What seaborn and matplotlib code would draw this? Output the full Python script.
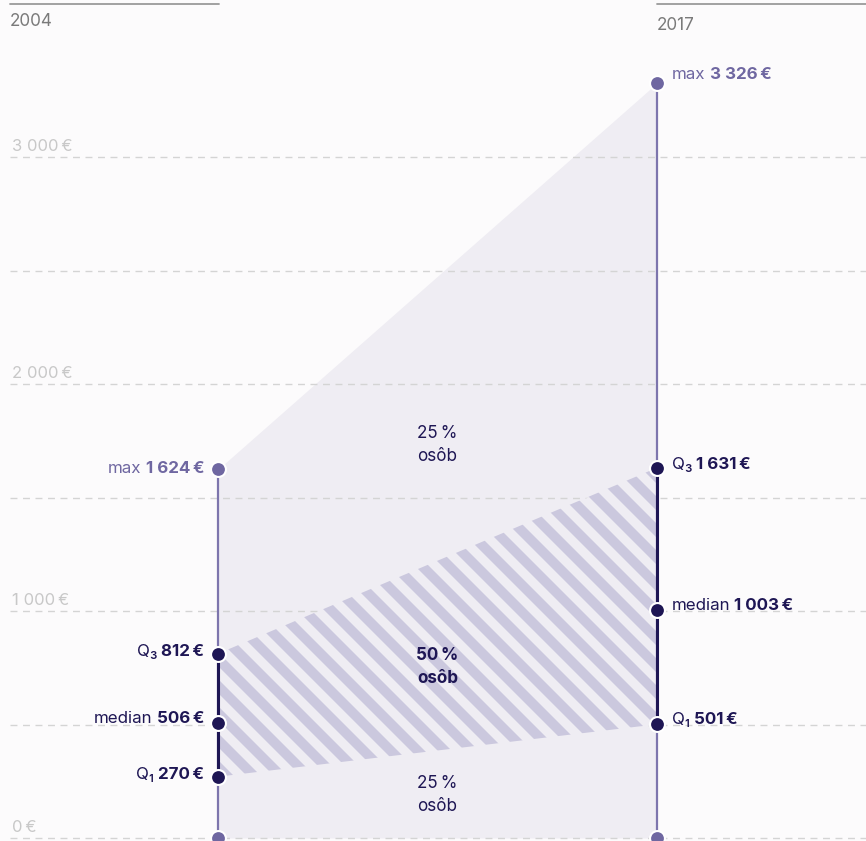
import matplotlib
matplotlib.use("Agg")
import matplotlib.pyplot as plt
from matplotlib.collections import PolyCollection
import seaborn as sns
import pandas as pd
import numpy as np

# ---- data ----
years = ["2004", "2017"]
q_min = [0, 0]
q1 = [270, 501]
median = [506, 1003]
q3 = [812, 1631]
q_max = [1624, 3326]
grid_values = [0, 500, 1000, 1500, 2000, 2500, 3000]
tick_labels = {0: "0\u2009€", 1000: "1 000\u2009€", 2000: "2 000\u2009€", 3000: "3 000\u2009€"}
band_labels = ["25\u2009%\nosôb", "50\u2009%\nosôb", "25\u2009%\nosôb"]

sns.set_theme(style="white")
plt.rcParams["font.family"] = ["Inter", "DejaVu Sans"]

BG = "#fcfbfc"
FILL = "#efedf3"
STRIPE = "#cbc8de"
NAVY = "#1e1654"
PURPLE = "#6f67a1"
LINE_LIGHT = "#7d75ad"
GRID = "#d4d4d4"
GRID_TXT = "#c8c8c8"
YEAR_TXT = "#7a7a7a"

W, H = 866, 841
fig = plt.figure(figsize=(W / 100, H / 100), dpi=100, facecolor=BG)
ax = fig.add_axes([0, 0, 1, 1])
ax.set_facecolor(BG)

# pixel mapping: x=0 -> 218px, x=1 -> 657px ; y=0 -> 838px, 1000 -> 611px
px_per_x = 439.0
px_per_val = 0.227
x0_px, y0_px = 218.0, 838.0
XLIM = (-x0_px / px_per_x, (W - x0_px) / px_per_x)
YLIM = (-(H - y0_px) / px_per_val, y0_px / px_per_val)

def vx(px):
    return (px - x0_px) / px_per_x

def vy(py):
    return (y0_px - py) / px_per_val

xs = [0, 1]
df = pd.DataFrame({"year": years, "x": xs, "min": q_min, "q1": q1,
                   "median": median, "q3": q3, "max": q_max})

# points (seaborn)
pts_light = pd.DataFrame({"x": xs * 2, "v": q_min + q_max})
pts_dark = pd.DataFrame({"x": xs * 3, "v": q1 + median + q3})
sns.scatterplot(data=pts_light, x="x", y="v", color=PURPLE, s=115,
                edgecolor="white", linewidth=1.5, zorder=4, ax=ax, legend=False)
sns.scatterplot(data=pts_dark, x="x", y="v", color=NAVY, s=115,
                edgecolor="white", linewidth=1.5, zorder=4, ax=ax, legend=False)
ax.set_xlim(*XLIM)
ax.set_ylim(*YLIM)
ax.axis("off")

# light fill from 0 to max
ax.fill_between(df["x"], df["min"], df["max"], color=FILL, lw=0, zorder=1)

# gridlines
for g in grid_values:
    ax.plot([vx(10), vx(W)], [g, g], color=GRID, lw=1, ls=(0, (5, 4)), zorder=1.5)
for g, t in tick_labels.items():
    ax.text(vx(12), g + 3 / px_per_val, t, color=GRID_TXT, fontsize=12,
            ha="left", va="bottom", zorder=1.6)

# interquartile band with diagonal stripes
band = ax.fill_between(df["x"], df["q1"], df["q3"], facecolor=FILL, lw=0, zorder=2)
period, sw = 27.0, 14.0
ylo, yhi = 0.0, float(H)
xlo, xhi = 150.0, 720.0
inv = ax.transData.inverted()
polys = []
c = xlo + ylo
while c < xhi + yhi:
    disp = np.array([[c - ylo, ylo], [c - yhi, yhi], [c + sw - yhi, yhi], [c + sw - ylo, ylo]])
    polys.append(inv.transform(disp))
    c += period
stripes = PolyCollection(polys, facecolor=STRIPE, edgecolor="none", zorder=2.1)
ax.add_collection(stripes)
stripes.set_clip_path(band.get_paths()[0], ax.transData)

# vertical lines
for _, r in df.iterrows():
    ax.plot([r.x, r.x], [r["min"], r["max"]], color=LINE_LIGHT, lw=1.6, zorder=3)
    ax.plot([r.x, r.x], [r.q1, r.q3], color=NAVY, lw=2.2, zorder=3.1)

# header lines and years
for i, y in enumerate(years):
    if i == 0:
        ax.plot([vx(10), vx(219)], [vy(4), vy(4)], color="#9a9a9a", lw=1.3, clip_on=False)
        ax.text(vx(10), vy(22), y, color=YEAR_TXT, fontsize=12.3, ha="left", va="center")
    else:
        ax.plot([vx(657), vx(W)], [vy(4), vy(4)], color="#9a9a9a", lw=1.3, clip_on=False)
        ax.text(vx(657), vy(26), y, color=YEAR_TXT, fontsize=12.3, ha="left", va="center")

def fmt(v):
    s = f"{v:,}".replace(",", " ")
    return s + "\u2009€"

fig.canvas.draw()
renderer = fig.canvas.get_renderer()

def label(x, v, prefix, value, color, side, dy=2):
    fs = 12.2
    if side == "left":
        t = ax.annotate(fmt(value), (x, v), xytext=(-14, dy), textcoords="offset pixels",
                        ha="right", va="center", color=color, fontsize=fs,
                        fontweight="bold", zorder=6)
        w = t.get_window_extent(renderer).width
        ax.annotate(prefix, (x, v), xytext=(-14 - w - 4, dy), textcoords="offset pixels",
                    ha="right", va="center", color=color, fontsize=fs, zorder=6)
    else:
        t = ax.annotate(prefix, (x, v), xytext=(15, dy), textcoords="offset pixels",
                        ha="left", va="center", color=color, fontsize=fs, zorder=6)
        w = t.get_window_extent(renderer).width
        ax.annotate(fmt(value), (x, v), xytext=(15 + w + 4, dy), textcoords="offset pixels",
                    ha="left", va="center", color=color, fontsize=fs,
                    fontweight="bold", zorder=6)

label(0, q_max[0], "max", q_max[0], PURPLE, "left", dy=1)
label(0, q3[0], "Q\u2083", q3[0], NAVY, "left", dy=2)
label(0, median[0], "median", median[0], NAVY, "left", dy=5)
label(0, q1[0], "Q\u2081", q1[0], NAVY, "left", dy=2)
label(1, q_max[1], "max", q_max[1], PURPLE, "right", dy=8)
label(1, q3[1], "Q\u2083", q3[1], NAVY, "right", dy=3)
label(1, median[1], "median", median[1], NAVY, "right", dy=5)
label(1, q1[1], "Q\u2081", q1[1], NAVY, "right", dy=5)

# band labels
ax.text(0.5, vy(445), band_labels[0], ha="center", va="center", color=NAVY,
        fontsize=12.3, linespacing=1.45, zorder=6)
ax.text(0.5, vy(667), band_labels[1], ha="center", va="center", color=NAVY,
        fontsize=12.3, fontweight="bold", linespacing=1.45, zorder=6)
ax.text(0.5, vy(795), band_labels[2], ha="center", va="center", color=NAVY,
        fontsize=12.3, linespacing=1.45, zorder=6)

fig.savefig("out.png", dpi=100, facecolor=BG)
